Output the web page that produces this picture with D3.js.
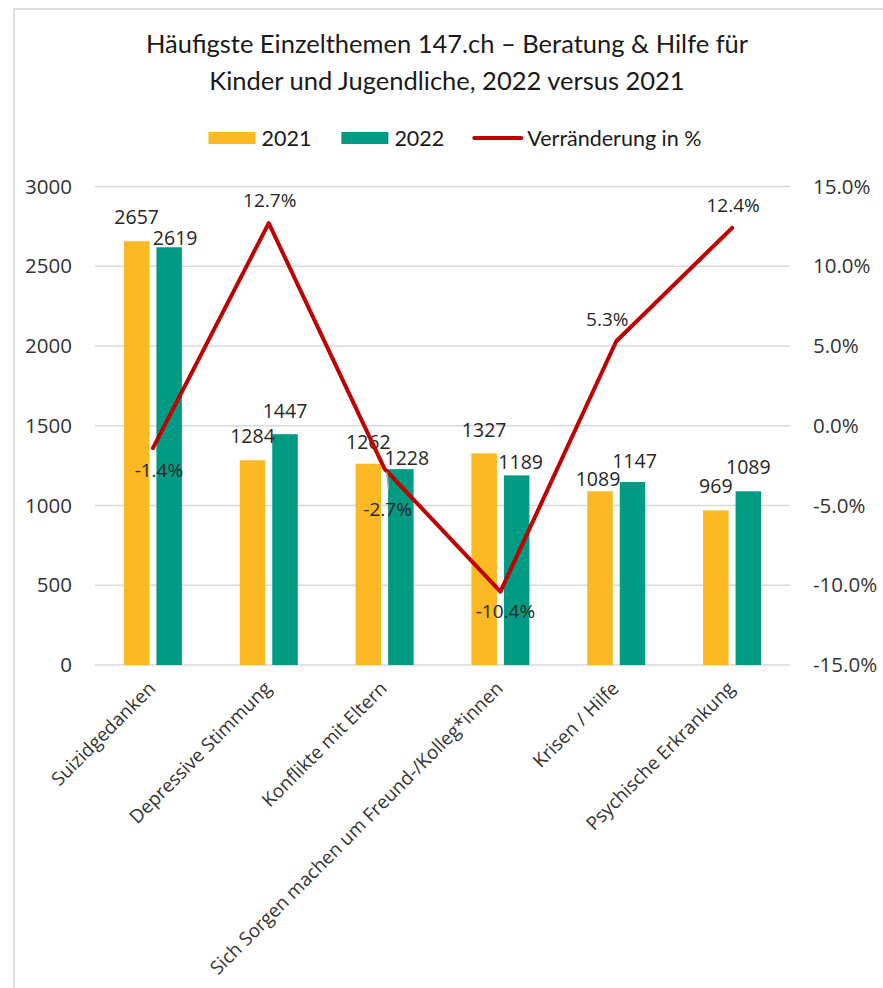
<!DOCTYPE html>
<html>
<head>
<meta charset="utf-8">
<script src="https://cdn.jsdelivr.net/npm/d3@7"></script>
<style>
  html, body { margin: 0; padding: 0; background: #fff; }
  svg { display: block; }
</style>
</head>
<body>
<svg id="chart" width="883" height="988"></svg>
<script>
// ---- data ----
const categories = ["Suizidgedanken", "Depressive Stimmung", "Konflikte mit Eltern",
  "Sich Sorgen machen um Freund-/Kolleg*innen", "Krisen / Hilfe", "Psychische Erkrankung"];
const values2021 = [2657, 1284, 1262, 1327, 1089, 969];
const values2022 = [2619, 1447, 1228, 1189, 1147, 1089];
const changePct = [-0.014, 0.127, -0.027, -0.104, 0.053, 0.124];
const leftTicks = [0, 500, 1000, 1500, 2000, 2500, 3000];
const rightTicks = [-0.15, -0.10, -0.05, 0, 0.05, 0.10, 0.15];
const seriesNames = ["2021", "2022"];
const titleLines = ["Häufigste Einzelthemen 147.ch – Beratung & Hilfe für", "Kinder und Jugendliche, 2022 versus 2021"];
const legendLabels = ["2021", "2022", "Verränderung in %"];

// ---- label placement nudges (annotation layout, px) ----
const nudge2021 = [[0, 17], [0, 17], [0, 15], [0, 16], [-2, 5], [0, 17]];
const nudge2022 = [[6, 2], [0, 16], [6, 4], [4, 6], [2, 14], [0, 17]];
const nudgePct = [[6, 29], [1, -16], [3, 47], [5, 26], [-9, -15], [1, -16]];

const colors = { "2021": "#FBB923", "2022": "#009B82", line: "#C00000" };
const svg = d3.select("#chart");
const W = 883, H = 988;
const plot = { left: 95, right: 790, top: 186.5, bottom: 665 };
const pct = v => d3.format(".1%")(v).replace("\u2212", "-");

// chart frame
svg.append("rect").attr("x", 0).attr("y", 0).attr("width", W).attr("height", H).attr("fill", "#fff");
svg.append("line").attr("x1", 13).attr("x2", W).attr("y1", 9).attr("y2", 9).attr("stroke", "#dedede").attr("stroke-width", 2);
svg.append("line").attr("x1", 14).attr("x2", 14).attr("y1", 8).attr("y2", H).attr("stroke", "#dedede").attr("stroke-width", 2);

// scales
const x0 = d3.scaleBand().domain(categories).range([plot.left, plot.right]).padding(0);
const bw = x0.bandwidth();
const x1 = d3.scaleBand().domain(seriesNames).range([bw / 2 - 29, bw / 2 + 29]).paddingInner(0.215).paddingOuter(0);
const yL = d3.scaleLinear().domain([0, 3000]).range([plot.bottom, plot.top]);
const yR = d3.scaleLinear().domain([-0.15, 0.15]).range([plot.bottom, plot.top]);

// gridlines
svg.append("g").selectAll("line").data(leftTicks).join("line")
  .attr("x1", plot.left).attr("x2", plot.right)
  .attr("y1", d => yL(d)).attr("y2", d => yL(d))
  .attr("stroke", "#d9d9d9").attr("stroke-width", 1.5);

// axes
const tickFont = "'Open Sans', 'Noto Sans', sans-serif";
const gL = svg.append("g").attr("transform", `translate(${plot.left},0)`)
  .call(d3.axisLeft(yL).tickValues(leftTicks).tickSize(0).tickPadding(23).tickFormat(d3.format("d")));
const gR = svg.append("g").attr("transform", `translate(${plot.right},0)`)
  .call(d3.axisRight(yR).tickValues(rightTicks).tickSize(0).tickPadding(23).tickFormat(pct));
[gL, gR].forEach(g => {
  g.select(".domain").remove();
  g.selectAll("text").attr("font-family", tickFont).attr("font-size", 20.5).attr("fill", "#333");
});

// bars
const rows = categories.map((c, i) => ({ c, i, vals: [values2021[i], values2022[i]] }));
const groups = svg.append("g").selectAll("g").data(rows).join("g")
  .attr("transform", d => `translate(${x0(d.c)},0)`);
groups.selectAll("rect").data(d => seriesNames.map((s, k) => ({ s, v: d.vals[k] }))).join("rect")
  .attr("x", d => x1(d.s)).attr("width", x1.bandwidth())
  .attr("y", d => yL(d.v)).attr("height", d => yL(0) - yL(d.v))
  .attr("fill", d => colors[d.s]);

// bar labels
const labelFont = "'Open Sans', 'Noto Sans', sans-serif";
const barLabels = [];
rows.forEach(r => {
  seriesNames.forEach((s, k) => {
    const n = (k === 0 ? nudge2021 : nudge2022)[r.i];
    barLabels.push({ x: x0(r.c) + x1(s) + x1.bandwidth() / 2 + n[0], y: yL(r.vals[k]) - n[1], t: r.vals[k] });
  });
});
svg.append("g").selectAll("text").data(barLabels).join("text")
  .attr("x", d => d.x).attr("y", d => d.y).attr("text-anchor", "middle")
  .attr("font-family", labelFont).attr("font-size", 19.5).attr("fill", "#262626")
  .text(d => d.t);

// line
const cx = c => x0(c) + bw / 2;
const lineData = categories.map((c, i) => ({ c, v: changePct[i] }));
svg.append("path").datum(lineData)
  .attr("fill", "none").attr("stroke", colors.line).attr("stroke-width", 4)
  .attr("stroke-linejoin", "round").attr("stroke-linecap", "round")
  .attr("d", d3.line().x(d => cx(d.c)).y(d => yR(d.v)));

// leader line for -2.7%
svg.append("line")
  .attr("x1", cx(categories[2]) + 2).attr("y1", yR(changePct[2]) + 3)
  .attr("x2", cx(categories[2]) + 4).attr("y2", yR(changePct[2]) + 20)
  .attr("stroke", "#a6a6a6").attr("stroke-width", 1.5);

// percent labels
svg.append("g").selectAll("text").data(lineData).join("text")
  .attr("x", (d, i) => cx(d.c) + nudgePct[i][0])
  .attr("y", (d, i) => yR(d.v) + nudgePct[i][1])
  .attr("text-anchor", "middle")
  .attr("font-family", labelFont).attr("font-size", 19).attr("fill", "#262626")
  .text(d => pct(d.v));

// x labels
svg.append("g").selectAll("text").data(categories).join("text")
  .attr("transform", d => `translate(${cx(d) - 1},${plot.bottom + 20}) rotate(-45)`)
  .attr("text-anchor", "end").attr("dy", "0.35em")
  .attr("font-family", tickFont).attr("font-size", 18.8).attr("fill", "#333")
  .text(d => d);

// title
const titleFont = "Lato, 'Open Sans', sans-serif";
svg.append("g").selectAll("text").data(titleLines).join("text")
  .attr("x", 447).attr("y", (d, i) => 53 + i * 37)
  .attr("text-anchor", "middle").attr("font-family", titleFont)
  .attr("font-size", 25.5).attr("fill", "#1a1a1a")
  .text(d => d);

// legend
const legG = svg.append("g");
const legendFontSize = 21.5;
const measure = legG.append("text").attr("font-family", titleFont).attr("font-size", legendFontSize);
const widths = legendLabels.map(t => { measure.text(t); return measure.node().getComputedTextLength(); });
measure.remove();
const swW = 47, gapSw = 6, gapItem = 30;
const total = widths.reduce((a, w) => a + swW + gapSw + w, 0) + gapItem * (legendLabels.length - 1);
let lx = 455 - total / 2;
const legY = 138;
legendLabels.forEach((t, i) => {
  if (i < 2) {
    legG.append("rect").attr("x", lx).attr("y", legY - 6).attr("width", swW).attr("height", 12)
      .attr("fill", colors[seriesNames[i]]);
  } else {
    legG.append("line").attr("x1", lx).attr("x2", lx + swW).attr("y1", legY).attr("y2", legY)
      .attr("stroke", colors.line).attr("stroke-width", 4).attr("stroke-linecap", "round");
  }
  legG.append("text").attr("x", lx + swW + gapSw).attr("y", legY).attr("dy", "0.36em")
    .attr("font-family", titleFont).attr("font-size", legendFontSize).attr("fill", "#1a1a1a").text(t);
  lx += swW + gapSw + widths[i] + gapItem;
});
</script>
</body>
</html>
